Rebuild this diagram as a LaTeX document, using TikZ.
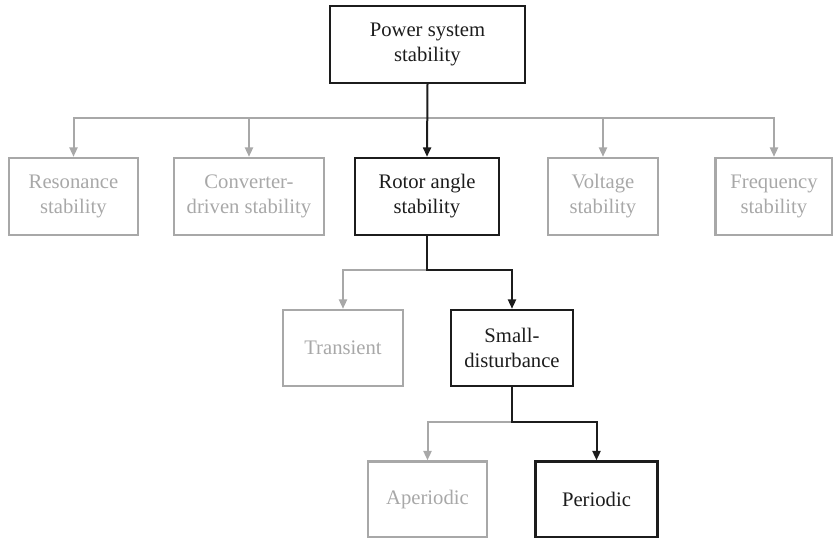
\documentclass[tikz,border=0pt]{standalone}
\usepackage{fontspec}
\setmainfont{Liberation Serif}
\usetikzlibrary{arrows.meta}
\definecolor{dimgray}{HTML}{A8A8A8}
\definecolor{darkline}{HTML}{1C1C1C}
\tikzset{
  onbox/.style={draw=darkline, line width=1.8pt, text=darkline, align=center,
    inner sep=0pt, font=\fontsize{15.5}{18.8}\selectfont},
  offbox/.style={onbox, draw=dimgray, text=dimgray},
  onarrow/.style={draw=darkline, line width=1.5pt, -{Triangle[length=7pt,width=6pt]}},
  offarrow/.style={draw=dimgray, line width=1.5pt, -{Triangle[length=7pt,width=6pt]}}
}
\begin{document}
\begin{tikzpicture}[x=0.75pt,y=-0.75pt]
    \useasboundingbox (0,0) rectangle (833,538);
    % Top level
    \node[onbox, minimum width=146.25pt, minimum height=57.75pt] (pss) at (427.5,44.5) {Power system\\stability};

    % Second level
    \node[offbox, minimum width=96.75pt, minimum height=57.75pt] (reso) at (73.5,196.5) {Resonance\\stability};
    \node[offbox, minimum width=112.5pt, minimum height=57.75pt] (conv) at (249,196.5) {Converter-\\driven stability};
    \node[onbox, minimum width=108pt, minimum height=57.75pt] (rotor) at (427,196.5) {Rotor angle\\stability};
    \node[offbox, minimum width=82.5pt, minimum height=57.75pt] (volt) at (603,196.5) {Voltage\\stability};
    \node[offbox, minimum width=87.75pt, minimum height=57.75pt] (freq) at (774,196.5) {Frequency\\stability};

    % Third level
    \node[offbox, minimum width=90pt, minimum height=57pt] (trans) at (343,348) {Transient};
    \node[onbox, minimum width=91.5pt, minimum height=57pt] (small) at (512,348) {Small-\\disturbance};

    % Fourth level
    \node[offbox, minimum width=89.25pt, minimum height=57pt] (aper) at (427.5,499.5) {Aperiodic};
    \node[onbox, minimum width=91.5pt, minimum height=57pt] (peri) at (596.5,499.5) {Periodic};

    % Bus lines
    \coordinate (bus1) at (427,118);
    \coordinate (bus2) at (428,270);
    \coordinate (bus3) at (512,422);

    % Connectors from the top box
    \draw[offarrow] (bus1) -| (reso.north);
    \draw[offarrow] (bus1) -| (conv.north);
    \draw[offarrow] (bus1) -| (volt.north);
    \draw[offarrow] (bus1) -| (freq.north);
    \draw[onarrow] (pss.south) -- (rotor.north);

    % Connectors from rotor angle stability
    \draw[offarrow] (rotor.south) |- (bus2) -| (trans.north);
    \draw[onarrow] (rotor.south) |- (bus2) -| (small.north);

    % Connectors from small-disturbance
    \draw[offarrow] (bus3) -| (aper.north);
    \draw[onarrow] (small.south) -- (bus3) -| (peri.north);
\end{tikzpicture}
\end{document}
